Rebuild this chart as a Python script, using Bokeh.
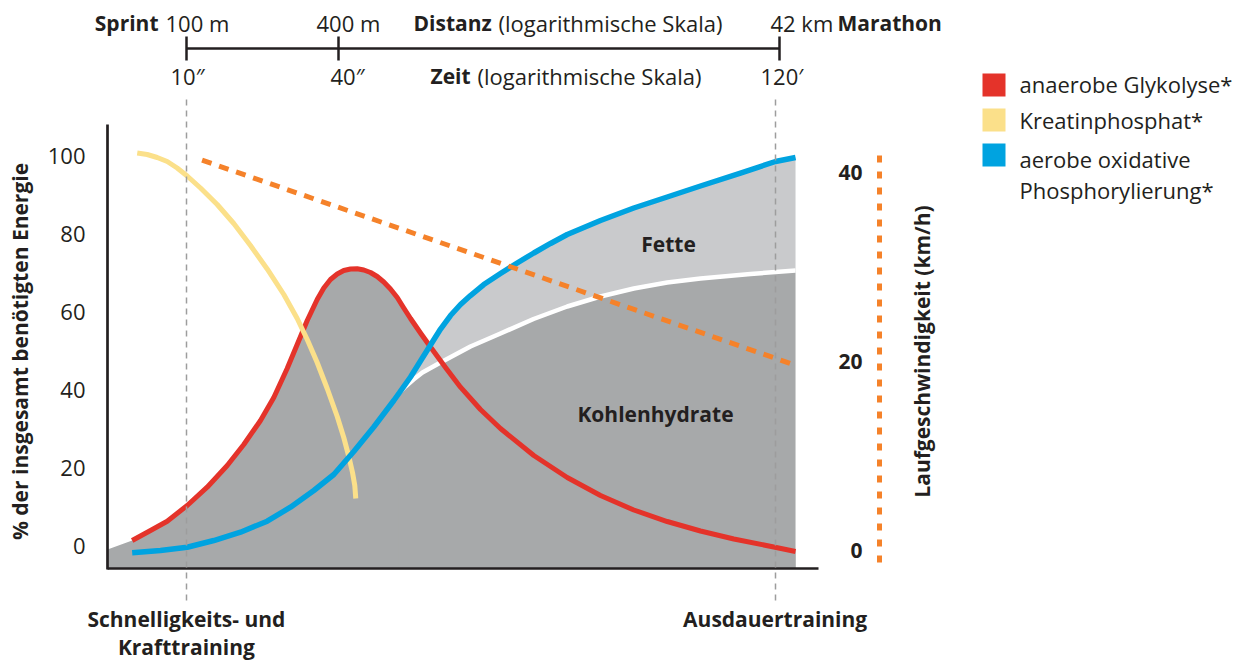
import math
from bokeh.plotting import figure
from bokeh.models import Range1d, LinearAxis, FixedTicker, Label
from bokeh.embed import file_html
from bokeh.resources import INLINE

# ------------------------------------------------------------------ data
# x: relative position on the (logarithmic) duration axis, 0 = y axis, 100 = end of x axis
# y: % of the total energy required
kp_x = [4.18, 5.58, 6.99, 8.40, 9.80, 11.21, 13.08, 15.43, 17.76, 20.11, 22.46, 24.80, 26.68, 28.09,
        29.49, 30.90, 32.31, 33.23, 33.94, 34.46, 34.78, 34.92]
kp_y = [100.64, 100.26, 99.49, 98.46, 96.79, 94.74, 91.67, 87.44, 82.56, 76.92, 70.90, 64.36, 58.21, 52.82,
        46.92, 40.26, 33.08, 27.69, 22.82, 18.72, 15.38, 12.05]

gl_x = [3.47, 6.05, 8.40, 11.21, 14.02, 16.84, 19.17, 21.52, 23.39, 25.27, 26.68, 28.09, 29.49, 30.42,
        31.36, 32.31, 33.23, 34.18, 35.12, 36.05, 36.99, 37.93, 38.86, 39.80, 40.75, 41.67, 42.62, 44.02,
        45.43, 47.54, 49.65, 52.46, 55.27, 59.96, 64.66, 69.34, 74.02, 78.72, 83.40, 88.09, 93.71, 96.77]
gl_y = [1.28, 3.85, 6.23, 10.26, 14.95, 20.51, 25.90, 32.05, 37.95, 45.38, 51.54, 57.69, 63.08, 66.03,
        68.21, 69.62, 70.51, 70.90, 70.95, 70.64, 70.00, 68.97, 67.56, 65.77, 63.59, 60.90, 58.21, 54.49,
        50.90, 45.64, 40.59, 34.87, 30.00, 23.08, 17.44, 12.82, 9.10, 6.15, 3.72, 1.67, -0.38, -1.54]

ox_x = [3.47, 7.45, 11.21, 14.95, 18.71, 22.46, 25.74, 29.02, 31.83, 34.64, 37.45, 40.27, 42.62, 44.02,
        45.43, 46.84, 48.24, 49.65, 51.05, 52.92, 55.27, 57.62, 59.96, 62.31, 64.66, 69.34, 74.02, 78.72,
        83.40, 89.03, 93.95, 96.77]
ox_y = [-1.87, -1.28, -0.44, 1.28, 3.41, 6.23, 9.82, 14.10, 18.21, 24.10, 30.38, 37.18, 43.21, 47.31,
        51.41, 55.51, 58.97, 61.79, 64.10, 66.92, 69.74, 72.44, 75.00, 77.44, 79.74, 83.33, 86.54, 89.36,
        92.18, 95.51, 98.46, 99.49]

# boundary Kohlenhydrate / Fette (white line)
ch_x = [40.93, 41.91, 43.04, 44.30, 46.84, 51.05, 55.27, 59.92, 64.66, 69.34, 74.02, 78.72, 83.40, 90.44, 96.77]
ch_y = [38.97, 40.77, 42.56, 44.36, 46.92, 51.03, 54.36, 58.08, 61.28, 63.85, 65.90, 67.44, 68.46, 69.62, 70.51]

# left end of the grey energy area at the y axis
area_start_x = [0.0]
area_start_y = [-1.0]

# running speed (km/h)
speed_x = [13.3, 96.8]
speed_kmh = [41.3, 19.6]

pct_ticks = [0, 20, 40, 60, 80, 100]
speed_ticks = [0, 20, 40]
scale_x = [11.1, 32.5, 94.5]            # 10'' / 100 m, 40'' / 400 m, 120' / 42 km
dist_labels = ["100 m", "400 m", "42 km"]
time_labels = ["10\u2033", "40\u2033", "120\u2032"]
train_x = [11.1, 93.9]
train_labels = ["Schnelligkeits- und\nKrafttraining", "Ausdauertraining"]
legend_labels = ["anaerobe Glykolyse*", "Kreatinphosphat*", "aerobe oxidative\nPhosphorylierung*"]

# ------------------------------------------------------------------ style
RED = "#e4332a"
YELLOW = "#fbe08a"
BLUE = "#00a3e0"
ORANGE = "#f5822a"
DARK = "#a7a9aa"
LIGHT = "#c9cacc"
INK = "#231f20"
DASHGREY = "#9d9d9d"
FONT = "Open Sans"
legend_colors = [RED, YELLOW, BLUE]

# ------------------------------------------------------------------ layout (page pixels -> data)
W, H = 1238, 662
OFF = 0
PX0, PXU = 107.0, 7.11       # page x of x=0, px per unit
PY0, PYU = 545.0, 3.9        # page y of 0 %, px per %
SY0, SYU = 550.0, 9.45       # page y of 0 km/h, px per km/h


def X(px):
    return (px - PX0) / PXU


def Y(py):
    return (PY0 - py) / PYU


def S(py):
    return (SY0 - py) / SYU


YBOT, YTOP = Y(568), Y(124)

p = figure(width=W, height=H, output_backend="svg", toolbar_location=None,
           x_range=Range1d(X(OFF), X(OFF + W)), y_range=Range1d(Y(OFF + H), Y(OFF)),
           x_axis_type=None, y_axis_type=None, min_border=0,
           outline_line_color=None, background_fill_color="white", border_fill_color="white")
p.extra_y_ranges = {"speed": Range1d(S(OFF + H), S(OFF))}

# grey areas
p.varea(x=area_start_x + gl_x, y1=YBOT, y2=area_start_y + gl_y, color=DARK)
p.varea(x=ch_x, y1=YBOT, y2=ch_y, color=DARK)
fx = ch_x + [x for x in reversed(ox_x) if x > ch_x[0]]
fy = ch_y + [y for x, y in reversed(list(zip(ox_x, ox_y))) if x > ch_x[0]]
p.patch(fx, fy, color=LIGHT, line_color=None)
p.line(ch_x, ch_y, color="white", line_width=4.5, line_join="round")

# curves
p.line(gl_x, gl_y, color=RED, line_width=5, line_join="round")
p.line(kp_x, kp_y, color=YELLOW, line_width=5, line_join="round")
p.line(ox_x, ox_y, color=BLUE, line_width=5.5, line_join="round")
p.line(speed_x, speed_kmh, y_range_name="speed", color=ORANGE, line_width=5, line_dash="10 8")

# left axis (% energy)
ax_l = LinearAxis(fixed_location=0, ticker=FixedTicker(ticks=pct_ticks), bounds=(YBOT - 0.35, YTOP),
                  axis_line_color=INK, axis_line_width=2.7,
                  major_tick_in=0, major_tick_out=0, minor_tick_in=0, minor_tick_out=0,
                  major_label_standoff=22, major_label_text_font=FONT,
                  major_label_text_font_size="22px", major_label_text_color=INK)
p.add_layout(ax_l, "left")

# bottom axis with dashed markers for the training types
ax_b = LinearAxis(fixed_location=YBOT, ticker=FixedTicker(ticks=train_x), bounds=(0, 100),
                  axis_line_color=INK, axis_line_width=2.7,
                  major_tick_in=473, major_tick_out=32, major_tick_line_color=DASHGREY,
                  major_tick_line_width=1.5, major_tick_line_dash="6 5",
                  minor_tick_in=0, minor_tick_out=0,
                  major_label_overrides={t: lab for t, lab in zip(train_x, train_labels)},
                  major_label_standoff=4, major_label_text_font=FONT, major_label_text_font_style="bold",
                  major_label_text_font_size="21px", major_label_text_color=INK,
                  major_label_text_line_height=1.0)
p.add_layout(ax_b, "below")

# speed axis
ax_s = LinearAxis(y_range_name="speed", fixed_location=X(879), ticker=FixedTicker(ticks=speed_ticks),
                  bounds=(S(562), S(152)), axis_line_color=ORANGE, axis_line_width=5, axis_line_dash="7 9",
                  major_tick_in=0, major_tick_out=0, minor_tick_in=0, minor_tick_out=0,
                  major_label_standoff=17, major_label_text_font=FONT, major_label_text_font_style="bold",
                  major_label_text_font_size="21px", major_label_text_color=INK)
p.add_layout(ax_s, "left")

# top scale (distance / time)
ax_t = LinearAxis(fixed_location=Y(47.5), ticker=FixedTicker(ticks=scale_x), bounds=(scale_x[0], scale_x[-1]),
                  axis_line_color=INK, axis_line_width=2.5,
                  major_tick_in=12, major_tick_out=12, major_tick_line_color=INK, major_tick_line_width=2.5,
                  minor_tick_in=0, minor_tick_out=0, major_label_text_color=None)
p.add_layout(ax_t, "above")


def label(text, px, py, align="left", bold=False, size="22px", angle=0.0):
    p.add_layout(Label(x=X(px), y=Y(py), text=text, text_align=align, text_baseline="middle",
                       text_font=FONT, text_font_style="bold" if bold else "normal",
                       text_font_size=size, text_color=INK, angle=angle))


# top scale texts
ROW1, ROW2 = 22, 75
label("Sprint", 158, ROW1, align="right", bold=True, size="21px")
for lab, px in zip(dist_labels, [165, 316, 770]):
    label(lab, px, ROW1)
label("Distanz", 413, ROW1, bold=True, size="21px")
label("(logarithmische Skala)", 498, ROW1)
label("Marathon", 837, ROW1, bold=True, size="21px")
for lab, px in zip(time_labels, [170, 330, 760]):
    label(lab, px, ROW2)
label("Zeit", 430, ROW2, bold=True, size="21px")
label("(logarithmische Skala)", 477, ROW2)

# axis titles
label("% der insgesamt benötigten Energie", 19, 351, align="center", bold=True, size="21px",
      angle=math.pi / 2)
label("Laufgeschwindigkeit (km/h)", 921, 351, align="center", bold=True, size="21px",
      angle=math.pi / 2)

# area labels
label("Fette", 668, 243, align="center", bold=True, size="21px")
label("Kohlenhydrate", 655, 413, align="center", bold=True, size="21px")

# legend
sq_y = [84.5, 119.5, 154.5]
p.scatter(x=[X(993.5)] * 3, y=[Y(v) for v in sq_y], marker="square", size=23,
          color=legend_colors, line_color=None)
text_y = [83.3, 119.2, 158.8]
for lab, ty in zip(legend_labels, text_y):
    for j, line in enumerate(lab.split("\n")):
        label(line, 1019, ty + 30.4 * j)

open("out.html", "w").write(file_html(p, INLINE))
